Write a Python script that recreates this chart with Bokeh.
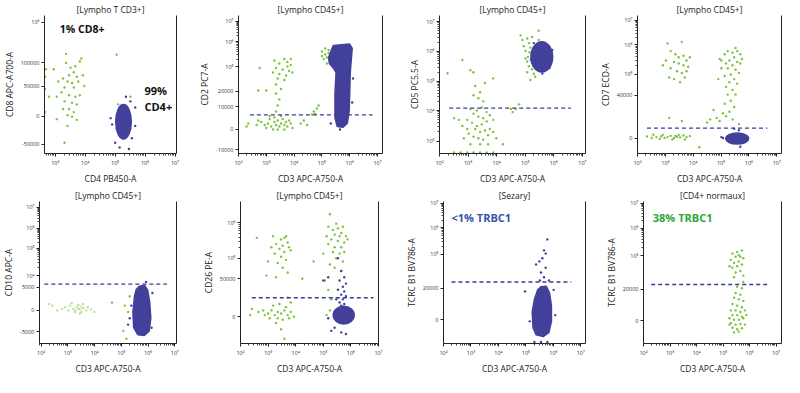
from bokeh.plotting import figure
from bokeh.layouts import column, row
from bokeh.models import FixedTicker, LinearAxis, Range1d
from bokeh.core.properties import value
from bokeh.embed import file_html
from bokeh.resources import INLINE
import math

# ---------------- data (x = log10 decade units, y = display units 0-100) -------------
TITLES = ["[Lympho T CD3+]", "[Lympho CD45+]", "[Lympho CD45+]", "[Lympho CD45+]",
          "[Lympho CD45+]", "[Lympho CD45+]", "[Sezary]", "[CD4+ normaux]"]
XLABELS = ["CD4 PB450-A"] + ["CD3 APC-A750-A"] * 7
YLABELS = ["CD8 APC-A700-A", "CD2 PC7-A", "CD5 PC5.5-A", "CD7 ECD-A",
           "CD10 APC-A", "CD26 PE-A", "TCRC B1 BV786-A", "TCRC B1 BV786-A"]
XRANGES = [(2.64, 7.05), (2.0, 7.18), (2.0, 7.11), (2.0, 7.17),
           (1.94, 7.06), (2.0, 7.0), (2.0, 7.17), (2.0, 7.2)]
XDECADES = [[3, 4, 5, 6, 7]] + [[2, 3, 4, 5, 6, 7]] * 7

YTICK_POS = [[95.1, 65.6, 48.9, 27.1, 6.7],
             [95.7, 80.9, 63.0, 45.0, 33.7, 17.6, 2.8],
             [95.6, 74.0, 52.2, 31.1, 8.9],
             [96.6, 78.7, 57.3, 42.2, 11.0],
             [96.0, 81.1, 67.1, 47.8, 39.6, 23.3, 8.4],
             [84.9, 60.0, 45.6, 18.9],
             [98.9, 81.6, 62.7, 38.9, 16.7],
             [98.9, 81.1, 61.8, 38.2, 16.0]]
YTICK_LAB = [["10⁶", "100000", "50000", "0", "-50000"],
             ["10⁷", "10⁶", "10⁵", "20000", "10000", "0", "-10000"],
             ["10⁷", "10⁶", "10⁵", "10⁴", "10³"],
             ["10⁷", "10⁶", "10⁵", "40000", "0"],
             ["10⁷", "10⁶", "10⁵", "10⁴", "5000", "0", "-5000"],
             ["10⁶", "10⁵", "50000", "0"],
             ["10⁷", "10⁶", "10⁵", "20000", "0"],
             ["10⁷", "10⁶", "10⁵", "20000", "0"]]

# gate (dashed) lines: y level, x start, x end  (panel 1 has none)
GATE_Y = [None, 28.0, 32.9, 18.4, 41.8, 32.2, 43.3, 41.6]
GATE_X0 = [None, 2.41, 2.34, 2.34, 2.12, 2.41, 2.29, 2.29]
GATE_X1 = [None, 6.82, 6.60, 6.66, 6.70, 6.82, 6.65, 6.71]

# ---- panel 1
p1_gx = [3.36, 2.69, 2.95, 3.36, 3.51, 3.67, 3.87, 3.82, 3.62, 3.46, 3.72, 3.92, 3.26, 3.10, 3.41,
         3.56, 3.77, 3.97, 3.31, 3.62, 3.21, 2.79, 3.05, 3.46, 3.67, 3.82, 3.31, 3.56, 3.72, 3.26,
         3.46, 3.62, 3.41, 3.56, 3.05, 3.72, 3.41, 3.31, 5.05, 5.10, 5.51, 5.10, 2.66, 2.66, 2.66]
p1_gy = [72.2, 61.1, 61.1, 65.6, 62.2, 63.3, 68.9, 66.7, 58.9, 56.7, 55.6, 56.7, 54.4, 52.2, 52.2,
         51.1, 52.2, 48.9, 47.8, 47.8, 44.4, 41.1, 41.1, 42.2, 41.1, 42.2, 37.8, 36.7, 35.6, 32.2,
         32.2, 30.0, 27.8, 26.7, 24.9, 24.4, 20.0, 7.8, 71.6, 35.6, 41.1, 17.8, 55.6, 46.7, 30.0]
p1_bx = [4.85, 5.36, 5.67, 5.56, 5.46, 5.15, 5.00, 5.67, 4.90, 5.51]
p1_by = [25.6, 41.1, 33.3, 11.1, 3.3, 4.4, 7.8, 20.0, 21.1, 37.8]
p1_ell = (5.28, 23.0, 0.52, 25.0)   # centre x, centre y, width, height
p1_txt_x = [3.15, 5.98, 5.98]
p1_txt_y = [90.0, 45.6, 34.4]
p1_txt = ["1% CD8+", "99%", "CD4+"]

# ---- panel 2
p2_gx = [3.29, 3.47, 3.65, 3.76, 3.88, 3.35, 3.59, 3.82, 3.24, 3.47, 3.71, 3.94, 3.41, 3.65, 3.35,
         3.53, 2.76, 3.00, 3.88, 3.76,
         2.82, 2.94, 3.06, 3.12, 3.18, 3.29, 3.35, 3.41, 3.47, 3.53, 3.59, 3.65, 3.71, 3.76, 3.82,
         3.88, 3.24, 3.41, 3.65, 3.00, 3.94, 3.29, 3.12, 3.53, 2.35, 2.29, 2.65, 2.71, 3.35, 3.41,
         3.47, 3.35, 2.71, 4.24, 4.35, 4.47,
         4.71, 4.82, 4.88, 4.65, 4.76,
         5.00, 5.12, 5.18, 5.06, 5.24, 5.29, 5.12, 5.35, 5.00, 5.18, 5.24]
p2_gy = [67.4, 65.2, 68.5, 66.3, 64.1, 62.0, 60.9, 59.8, 58.7, 57.6, 56.5, 58.7, 54.3, 53.3, 50.0,
         46.7, 62.0, 45.7, 68.5, 63.0,
         22.8, 20.7, 21.7, 25.0, 19.6, 22.8, 20.7, 23.9, 19.6, 21.7, 25.0, 20.7, 22.8, 19.6, 23.9,
         21.7, 17.4, 17.4, 17.4, 18.5, 18.5, 26.1, 27.2, 27.2, 21.7, 19.6, 20.7, 23.9, 30.4, 34.8,
         39.1, 43.5, 45.7, 21.7, 23.9, 20.7,
         30.4, 32.6, 34.8, 28.3, 28.7,
         73.9, 71.7, 69.6, 68.5, 75.0, 67.4, 76.1, 70.7, 70.7, 65.2, 72.8]
p2_bx = [5.32, 6.12, 6.09, 5.65]
p2_by = [21.7, 54.3, 37.0, 17.4]
p2_poly_x = [5.41, 6.00, 6.09, 6.02, 6.00, 5.98, 5.91, 5.76, 5.55, 5.47, 5.47, 5.51, 5.41, 5.27, 5.24, 5.32]
p2_poly_y = [78.3, 79.3, 76.1, 58.7, 43.5, 30.4, 21.7, 19.1, 19.6, 26.1, 43.5, 58.7, 62.0, 65.2, 69.6, 73.9]

# ---- panel 3
p3_gx = [4.84, 5.07, 5.13, 5.18, 5.15, 5.10, 5.07, 5.13, 5.24, 5.30, 5.35, 5.47, 4.95, 5.01, 5.24,
         5.07, 5.18, 5.24, 4.90, 5.47, 5.01,
         2.80, 2.28, 3.08, 3.19, 3.88, 3.25, 3.19, 3.36, 3.53, 3.42, 3.59, 3.08, 3.31, 3.48, 3.65,
         3.19, 3.36, 3.53, 3.76, 2.97, 3.14, 3.31, 3.48, 3.65, 3.88, 3.25, 3.42, 3.59, 3.76, 3.02,
         3.19, 3.36, 3.53, 3.70, 3.88, 2.85, 3.08, 3.42, 3.70, 2.68, 2.51, 3.99, 4.22, 2.80, 2.97,
         4.56, 4.67, 4.78, 4.50, 2.51, 2.74, 2.97, 3.19, 3.42, 3.65, 3.88]
p3_gy = [85.6, 83.3, 80.0, 76.7, 73.3, 70.0, 66.7, 63.3, 61.1, 57.8, 55.6, 82.2, 77.8, 68.9, 84.4,
         58.9, 53.3, 65.6, 82.2, 88.9, 74.4,
         67.8, 58.2, 60.4, 58.9, 54.4, 48.9, 42.2, 40.0, 37.8, 44.4, 51.1, 32.2, 31.1, 33.3, 30.0,
         28.9, 26.7, 25.6, 27.8, 24.4, 22.2, 20.0, 21.1, 23.3, 24.4, 17.8, 15.6, 16.7, 17.8, 14.4,
         12.2, 11.1, 10.0, 13.3, 15.6, 11.1, 6.7, 6.7, 6.7, 24.4, 25.6, 11.1, 6.7, 20.0, 17.8,
         30.0, 32.2, 35.6, 32.2, 0.7, 0.7, 0.7, 0.7, 0.7, 0.7, 0.7]
p3_bx = [5.95, 5.20, 5.60, 5.85, 5.30]
p3_by = [75.0, 68.0, 58.0, 62.0, 80.0]
p3_ell = (5.58, 70.0, 0.76, 22.0)

# ---- panel 4
p4_gx = [3.08, 3.59, 2.91, 3.19, 3.36, 3.48, 3.65, 3.76, 3.31, 3.48, 3.65, 3.82, 3.19, 3.42, 3.59,
         3.70, 3.31, 3.53, 3.88, 3.14, 3.02, 3.76,
         4.95, 5.13, 5.24, 5.41, 5.58, 5.69, 5.47, 5.30, 5.18, 5.58, 5.41, 5.69, 5.24, 5.52, 5.35,
         5.64, 5.13, 5.47, 5.30, 5.58, 5.18, 5.41, 5.24, 5.52, 5.35, 5.13, 5.47, 5.30, 5.18, 5.41,
         5.01, 5.75, 5.52, 5.01, 4.90, 5.64,
         4.73, 4.61, 4.84, 4.50, 4.95, 5.07, 3.14, 3.59, 4.22,
         2.34, 2.51, 2.68, 2.85, 2.97, 3.08, 3.19, 3.31, 3.42, 3.53, 3.65, 3.76, 3.88, 2.57, 2.80,
         3.25, 3.48, 3.70, 2.91, 3.36]
p4_gy = [79.8, 80.9, 64.0, 74.2, 71.9, 69.7, 70.8, 67.4, 66.3, 65.2, 64.0, 62.9, 61.8, 59.6, 58.4,
         55.1, 53.9, 51.7, 69.7, 55.1, 67.4, 59.6,
         68.5, 71.9, 74.2, 73.0, 74.2, 71.9, 69.7, 67.4, 65.2, 66.3, 64.0, 65.2, 61.8, 60.7, 57.3,
         58.4, 56.2, 53.9, 51.7, 50.6, 48.3, 46.1, 42.7, 42.7, 38.2, 36.0, 33.7, 30.3, 27.0, 24.7,
         67.4, 68.5, 76.4, 61.8, 53.9, 21.3,
         31.5, 24.7, 25.8, 22.5, 23.6, 29.2, 25.8, 23.6, 4.5,
         12.4, 11.2, 11.9, 12.4, 11.2, 11.9, 12.8, 11.2, 12.1, 11.7, 13.0, 11.9, 12.6, 13.5, 10.6,
         10.1, 13.5, 10.1, 13.5, 12.8]
p4_bx = [5.07, 5.01, 5.69, 5.47, 5.64]
p4_by = [11.2, 11.9, 4.9, 18.0, 16.9]
p4_ell = (5.58, 10.8, 0.82, 8.0)

# ---- panel 5
p5_gx = [5.13, 5.25, 5.07, 5.19, 5.31, 4.65]
p5_gy = [26.7, 22.2, 8.9, 3.3, 33.3, 28.9]
p5_px = [2.90, 3.08, 3.20, 3.33, 3.45, 3.57, 3.39, 3.27, 3.51, 3.69, 3.02, 3.75, 2.78, 3.87, 3.14,
         3.57, 3.45, 2.42, 2.60, 2.30, 3.99, 3.27, 3.39, 3.51]
p5_py = [25.6, 26.7, 24.4, 25.6, 24.0, 24.9, 27.1, 22.2, 22.2, 23.3, 23.3, 25.6, 24.4, 24.0, 28.4,
         27.8, 21.1, 26.7, 23.3, 27.8, 22.2, 23.3, 24.4, 26.0]
p5_bx = [5.31, 5.25, 6.16, 6.13, 5.37, 5.92]
p5_by = [17.8, 13.3, 35.6, 11.1, 26.7, 43.3]
p5_poly_x = [5.67, 5.86, 5.98, 6.06, 6.10, 6.04, 5.86, 5.61, 5.46, 5.43, 5.49, 5.55]
p5_poly_y = [40.4, 41.1, 37.8, 28.9, 17.8, 8.9, 5.6, 6.2, 11.1, 22.2, 33.3, 37.8]

# ---- panel 6
p6_gx = [2.59, 3.18, 3.47, 3.65, 3.29, 3.53, 3.71, 3.41, 3.59, 3.76, 3.24, 3.47, 3.65, 3.35, 3.53,
         3.00, 3.71, 3.29, 2.94, 3.82, 3.12, 3.59,
         2.41, 2.65, 2.82, 3.00, 3.12, 3.24, 3.35, 3.47, 3.59, 3.71, 3.82, 3.94, 3.18, 3.41, 3.65,
         3.35, 3.53, 3.76, 3.06, 3.29, 3.47, 3.59, 2.35, 2.88, 3.82, 3.71,
         4.65, 4.24,
         5.24, 5.18, 5.35, 5.53, 5.71, 5.41, 5.65, 5.82, 5.29, 5.53, 5.76, 5.18, 5.41, 5.65, 5.35,
         5.59, 5.76, 5.47, 5.71, 5.24, 5.00, 5.88, 5.59, 5.47, 5.12, 5.41, 5.65, 5.06, 5.18, 5.29,
         5.12, 5.24]
p6_gy = [74.4, 75.6, 73.3, 75.6, 70.0, 68.9, 71.1, 66.7, 64.4, 67.8, 63.3, 61.1, 58.9, 56.7, 53.3,
         57.8, 50.0, 46.7, 47.8, 65.6, 67.8, 74.4,
         24.4, 22.2, 23.3, 21.1, 23.3, 20.0, 22.2, 21.1, 23.3, 20.0, 22.2, 18.9, 26.7, 27.8, 25.6,
         17.8, 16.7, 17.8, 17.8, 14.4, 10.0, 3.3, 20.0, 20.0, 28.9, 32.2,
         57.8, 45.6,
         91.1, 82.2, 80.0, 81.1, 82.2, 76.7, 77.8, 75.6, 73.3, 72.2, 71.1, 70.0, 67.8, 67.8, 64.4,
         63.3, 64.4, 60.0, 57.8, 55.6, 63.3, 73.3, 75.6, 84.4, 75.6, 53.3, 51.1, 44.4, 37.8, 31.1,
         20.0, 23.3]
p6_bx = [5.65, 5.76, 5.59, 5.82, 5.71, 5.53, 5.76, 5.65, 5.82, 5.71, 5.59, 5.76, 5.65, 5.47, 5.18,
         5.29, 5.41, 5.65, 5.82, 5.18, 5.53, 5.00]
p6_by = [51.1, 46.7, 44.4, 42.2, 40.0, 37.8, 36.7, 34.4, 33.3, 31.1, 28.9, 27.8, 26.7, 31.1, 46.7,
         8.9, 11.1, 7.8, 6.7, 17.8, 60.0, 44.4]
p6_ell = (5.74, 20.0, 0.76, 12.4)

# ---- panel 7
p7_bx = [5.78, 5.66, 5.60, 5.49, 5.72, 5.55, 5.66, 5.84, 5.37, 4.97, 6.01, 6.07, 5.14, 5.55, 5.78,
         5.31, 5.72, 5.51]
p7_by = [73.3, 65.6, 60.0, 57.8, 53.3, 50.0, 46.7, 44.4, 55.6, 36.7, 37.8, 20.0, 15.6, 1.1, 1.1,
         1.1, 63.3, 44.4]
p7_poly_x = [5.55, 5.74, 5.86, 5.93, 5.93, 5.84, 5.63, 5.37, 5.26, 5.23, 5.31, 5.43]
p7_poly_y = [40.0, 40.4, 35.6, 26.7, 15.6, 7.8, 4.9, 6.2, 11.1, 22.2, 31.1, 37.8]
p7_txt_x = [2.29]
p7_txt_y = [88.9]
p7_txt = ["<1% TRBC1"]

# ---- panel 8
p8_gx = [5.35, 5.53, 5.71, 5.47, 5.65, 5.29, 5.59, 5.41, 5.71, 5.53, 5.35, 5.24, 5.65, 5.47, 5.76,
         5.41, 5.59, 5.76,
         5.53, 5.71, 5.47, 5.65, 5.41, 5.59, 5.76, 5.35, 5.53, 5.71, 5.29, 5.47, 5.65, 5.82, 5.35,
         5.53, 5.71, 5.24, 5.41, 5.59, 5.76, 5.29, 5.47, 5.65, 5.82, 5.35, 5.53, 5.71, 5.41, 5.59,
         5.76, 5.24, 5.88]
p8_gy = [63.3, 64.4, 65.6, 61.1, 61.1, 58.9, 57.8, 56.7, 55.6, 54.4, 53.3, 54.4, 51.1, 50.0, 47.8,
         46.7, 62.2, 60.0,
         40.0, 38.9, 35.6, 34.4, 32.2, 31.1, 30.0, 27.8, 26.7, 25.6, 23.3, 23.3, 22.2, 23.3, 20.0,
         20.0, 18.9, 17.8, 16.7, 16.7, 17.8, 14.4, 13.3, 13.8, 13.3, 11.1, 10.0, 10.7, 7.8, 8.4,
         43.3, 13.3, 20.0]
p8_txt_x = [2.35]
p8_txt_y = [88.9]
p8_txt = ["38% TRBC1"]

# ---------------- styling ----------------
BLUE = "#43409c"
GREEN = "#7cc43a"
PALE = "#bfe39a"
GATE = "#3b3b9c"
FONT = "Open Sans"
SUP = str.maketrans("0123456789", "⁰¹²³⁴⁵⁶⁷⁸⁹")

# per-panel: width, min_border_left, min_border_right
ROW1 = [(192, 38, 16), (198, 46, 8), (197, 49, 2), (197, 50, 3)]
ROW2 = [(192, 38, 16), (198, 48, 12), (197, 53, 2), (197, 56, 3)]


def make(i, W, L, R, H, T, B):
    xr = XRANGES[i]
    p = figure(width=W, height=H, x_range=Range1d(xr[0], xr[1]), y_range=Range1d(0, 100),
               output_backend="svg", toolbar_location=None, title=TITLES[i],
               min_border_left=L, min_border_right=R, min_border_top=T, min_border_bottom=B)
    p.outline_line_color = None
    p.xgrid.visible = False
    p.ygrid.visible = False
    p.title.align = "center"
    p.title.text_font = FONT
    p.title.text_font_size = "8.5px"
    p.title.text_font_style = "normal"
    p.title.text_color = "#222222"
    p.title.standoff = 1

    decs = XDECADES[i]
    lo = math.floor(xr[0])
    minor = [n + math.log10(k) for n in range(lo, 8) for k in range(2, 10)
             if xr[0] <= n + math.log10(k) <= xr[1]]
    p.xaxis.ticker = FixedTicker(ticks=decs, minor_ticks=minor)
    p.xaxis.major_label_overrides = {d: "10" + str(d).translate(SUP) for d in decs}

    pos, lab = YTICK_POS[i], YTICK_LAB[i]
    ymin = []
    dec_pos = [pp for pp, ll in zip(pos, lab) if ll.startswith("10") and len(ll) == 3]
    for a, b in zip(dec_pos[1:], dec_pos[:-1]):
        ymin += [a + (b - a) * math.log10(k) for k in range(2, 10)]
    p.yaxis.ticker = FixedTicker(ticks=pos, minor_ticks=ymin)
    p.yaxis.major_label_overrides = {pp: ll for pp, ll in zip(pos, lab)}

    p.xaxis.axis_label = XLABELS[i]
    p.yaxis.axis_label = YLABELS[i]
    for ax in (p.xaxis, p.yaxis):
        ax.axis_label_text_font = FONT
        ax.axis_label_text_font_size = "8.5px"
        ax.axis_label_text_font_style = "normal"
        ax.axis_label_text_color = "#222222"
        ax.axis_label_standoff = 3
        ax.major_label_text_font = FONT
        ax.major_label_text_font_size = "5.5px"
        ax.major_label_text_color = "#333333"
        ax.major_label_standoff = 2
        ax.major_tick_out = 3
        ax.major_tick_in = 0
        ax.minor_tick_out = 2
        ax.minor_tick_in = 0
        ax.axis_line_color = "#222222"
        ax.major_tick_line_color = "#222222"
        ax.minor_tick_line_color = "#444444"
    ra = LinearAxis(ticker=FixedTicker(ticks=[]), major_label_text_font_size="0px",
                    major_tick_out=0, minor_tick_out=0, major_label_standoff=0,
                    axis_line_color="#222222")
    p.add_layout(ra, "right")
    return p


def dots(p, xs, ys, color, size=2.4):
    n = min(len(xs), len(ys))
    p.scatter(x=xs[:n], y=ys[:n], size=size, color=color, marker="circle", line_width=0)


def ell(p, e):
    p.ellipse(x=[e[0]], y=[e[1]], width=[e[2]], height=[e[3]], fill_color=BLUE, line_color=BLUE,
              line_width=1.5)


def poly(p, xs, ys):
    p.patch(x=xs, y=ys, fill_color=BLUE, line_color=BLUE, line_width=1.5)


def gate(p, i):
    if GATE_Y[i] is not None:
        p.line(x=[GATE_X0[i], GATE_X1[i]], y=[GATE_Y[i], GATE_Y[i]], line_color=GATE,
               line_width=1.4, line_dash="4 3")


def label(p, xs, ys, ts, color, size="11px"):
    p.text(x=xs, y=ys, text=ts, text_font=value(FONT), text_font_size=size,
           text_font_style="bold", text_color=color, text_baseline="middle", text_align="left")


figs = []
H1, H2, T, B = 186, 190, 15, 28
for i in range(8):
    W, L, R = (ROW1 + ROW2)[i]
    figs.append(make(i, W, L, R, H1 if i < 4 else H2, T, B))

f = figs
# panel 1
dots(f[0], p1_gx, p1_gy, GREEN)
ell(f[0], p1_ell)
dots(f[0], p1_bx, p1_by, BLUE)
label(f[0], p1_txt_x[:1], p1_txt_y[:1], p1_txt[:1], "#111111", "10.5px")
label(f[0], p1_txt_x[1:], p1_txt_y[1:], p1_txt[1:], "#111111", "11px")
# panel 2
dots(f[1], p2_gx, p2_gy, GREEN)
poly(f[1], p2_poly_x, p2_poly_y)
dots(f[1], p2_bx, p2_by, BLUE)
gate(f[1], 1)
# panel 3
dots(f[2], p3_gx, p3_gy, GREEN)
ell(f[2], p3_ell)
dots(f[2], p3_bx, p3_by, BLUE)
gate(f[2], 2)
# panel 4
dots(f[3], p4_gx, p4_gy, GREEN)
ell(f[3], p4_ell)
dots(f[3], p4_bx, p4_by, BLUE)
gate(f[3], 3)
# panel 5
dots(f[4], p5_px, p5_py, PALE)
dots(f[4], p5_gx, p5_gy, GREEN)
poly(f[4], p5_poly_x, p5_poly_y)
dots(f[4], p5_bx, p5_by, BLUE)
gate(f[4], 4)
# panel 6
dots(f[5], p6_gx, p6_gy, GREEN)
ell(f[5], p6_ell)
dots(f[5], p6_bx, p6_by, BLUE)
gate(f[5], 5)
# panel 7
poly(f[6], p7_poly_x, p7_poly_y)
dots(f[6], p7_bx, p7_by, BLUE)
gate(f[6], 6)
label(f[6], p7_txt_x, p7_txt_y, p7_txt, "#3553a8")
# panel 8
dots(f[7], p8_gx, p8_gy, GREEN)
gate(f[7], 7)
label(f[7], p8_txt_x, p8_txt_y, p8_txt, "#2fa53a")

layout = column(row(*figs[:4]), row(*figs[4:]))
open("out.html", "w").write(file_html(layout, INLINE, title="Cytometry panels"))
